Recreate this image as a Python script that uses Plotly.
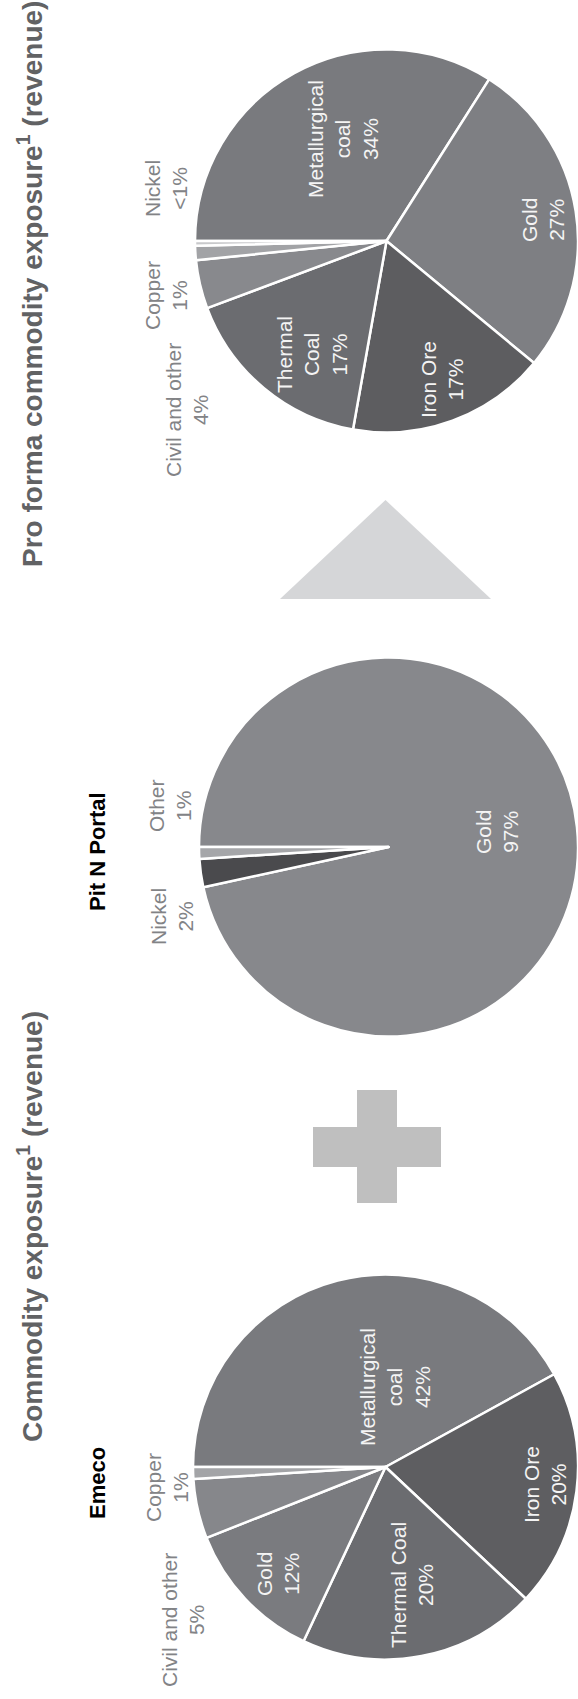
import plotly.graph_objects as go

W, H = 578, 1699

# ---------------- data ----------------
pro_labels = ["Metallurgical coal", "Gold", "Iron Ore", "Thermal Coal", "Civil and other", "Copper", "Nickel"]
pro_values = [34.0, 27.0, 16.8, 16.5, 4.1, 1.2, 0.4]
pro_text = ["Metallurgical<br>coal<br>34%", "Gold<br>27%", "Iron Ore<br>17%", "Thermal<br>Coal<br>17%",
            "Civil and other<br>4%", "Copper<br>1%", "Nickel<br>&lt;1%"]

pnp_labels = ["Gold", "Nickel", "Other"]
pnp_values = [96.6, 2.4, 1.0]
pnp_text = ["Gold<br>97%", "Nickel<br>2%", "Other<br>1%"]

emeco_labels = ["Metallurgical coal", "Iron Ore", "Thermal Coal", "Gold", "Civil and other", "Copper"]
emeco_values = [42, 20, 20, 12, 5, 1]
emeco_text = ["Metallurgical<br>coal<br>42%", "Iron Ore<br>20%", "Thermal Coal<br>20%", "Gold<br>12%",
              "Civil and other<br>5%", "Copper<br>1%"]

titles = ["Pro forma commodity exposure<sup>1</sup> (revenue)", "Commodity exposure<sup>1</sup> (revenue)"]
pie_names = ["Pit N Portal", "Emeco"]

# ---------------- style ----------------
FONT = "Liberation Sans, Arial, Helvetica, sans-serif"
WHITE_TXT = "#f4f4f4"
GREY_TXT = "#828386"
TITLE_TXT = "#616264"

pro_colors = ["#797a7e", "#7e7f83", "#5d5d60", "#6b6c70", "#88898d", "#a2a3a6", "#c8c9cb"]
pnp_colors = ["#87888c", "#4a4a4d", "#a5a6a9"]
emeco_colors = ["#797a7e", "#5e5e61", "#6b6c70", "#7a7b7f", "#86878b", "#a3a4a7"]

# pie geometry in px: centre x, centre y, radius
pro_geo = (386.5, 241, 191.5)
pnp_geo = (388.5, 847, 189.5)
emeco_geo = (385.5, 1467, 192.5)

# label anchor positions in px and whether label sits inside the slice
pro_pos = [(343, 139, True), (543, 220, True), (442, 380, True), (312, 355, True),
           (187, 410, False), (166, 296, False), (166, 189, False)]
pnp_pos = [(497, 832, True), (172, 917, False), (170, 806, False)]
emeco_pos = [(395, 1387, True), (545, 1485, True), (412, 1585, True), (278, 1574, True),
             (183, 1620, False), (167, 1488, False)]

title_pos = [(30, 284), (30, 1227)]
name_pos = [(97, 852), (97, 1483)]


def domain(geo):
    cx, cy, r = geo
    return dict(x=[max(0, (cx - r) / W), min(1, (cx + r) / W)],
                y=[max(0, 1 - (cy + r) / H), min(1, 1 - (cy - r) / H)])


fig = go.Figure()

for labels, values, colors, geo in [
    (pro_labels, pro_values, pro_colors, pro_geo),
    (pnp_labels, pnp_values, pnp_colors, pnp_geo),
    (emeco_labels, emeco_values, emeco_colors, emeco_geo),
]:
    fig.add_trace(go.Pie(
        labels=labels, values=values, sort=False, direction="clockwise", rotation=-90,
        marker=dict(colors=colors, line=dict(color="white", width=2.5)),
        textinfo="none", hoverinfo="label+percent", showlegend=False,
        domain=domain(geo),
    ))

annotations = []
for texts, pos in [(pro_text, pro_pos), (pnp_text, pnp_pos), (emeco_text, emeco_pos)]:
    for t, (x, y, inside) in zip(texts, pos):
        annotations.append(dict(
            x=x, y=y, xref="x", yref="y", text=t, showarrow=False, textangle=-90,
            xanchor="center", yanchor="middle", align="center",
            font=dict(family=FONT, size=21, color=WHITE_TXT if inside else GREY_TXT),
        ))

for t, (x, y) in zip(titles, title_pos):
    annotations.append(dict(
        x=x, y=y, xref="x", yref="y", text="<b>" + t + "</b>", showarrow=False, textangle=-90,
        xanchor="center", yanchor="middle",
        font=dict(family=FONT, size=28, color=TITLE_TXT),
    ))

for t, (x, y) in zip(pie_names, name_pos):
    annotations.append(dict(
        x=x, y=y, xref="x", yref="y", text="<b>" + t + "</b>", showarrow=False, textangle=-90,
        xanchor="center", yanchor="middle",
        font=dict(family=FONT, size=22, color="#000000"),
    ))

shapes = [
    # plus sign
    dict(type="rect", xref="x", yref="y", x0=357, x1=397, y0=1090, y1=1203,
         fillcolor="#bfbfbf", line=dict(width=0), layer="below"),
    dict(type="rect", xref="x", yref="y", x0=313, x1=441, y0=1127, y1=1167,
         fillcolor="#bfbfbf", line=dict(width=0), layer="below"),
    # arrow triangle
    dict(type="path", xref="x", yref="y", path="M 280 599 L 385.5 500 L 491 599 Z",
         fillcolor="#d5d6d8", line=dict(width=0), layer="below"),
]

fig.update_layout(
    width=W, height=H, margin=dict(l=0, r=0, t=0, b=0),
    paper_bgcolor="white", plot_bgcolor="white",
    xaxis=dict(range=[0, W], visible=False, fixedrange=True),
    yaxis=dict(range=[H, 0], visible=False, fixedrange=True),
    annotations=annotations, shapes=shapes,
)

fig.write_html("out.html", config={"displayModeBar": False})
